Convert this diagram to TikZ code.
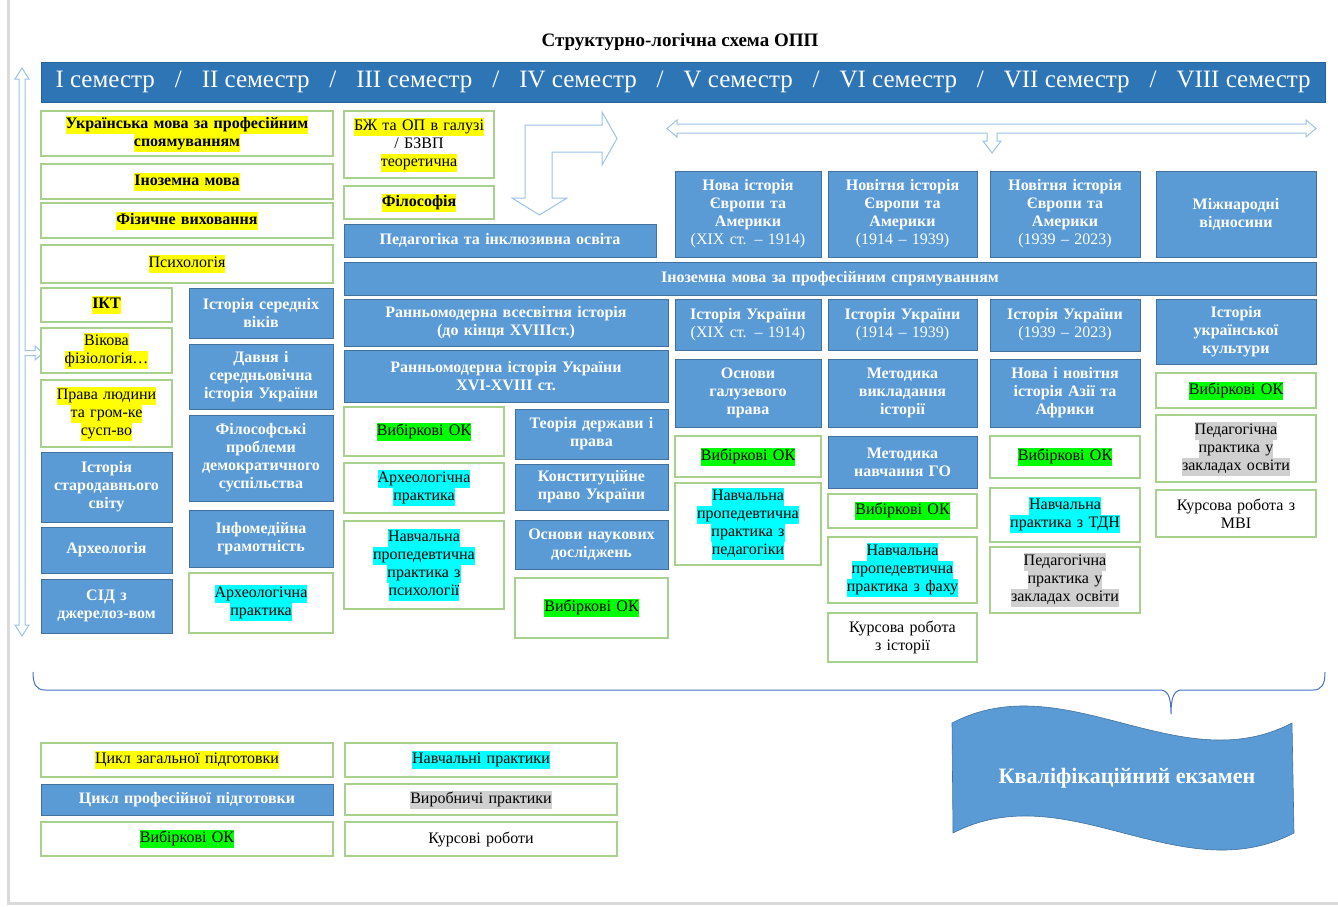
\documentclass[tikz,border=0pt]{standalone}
\usepackage{fontspec}
\setmainfont{Liberation Serif}
\definecolor{bfill}{HTML}{5B9BD5}
\definecolor{bdraw}{HTML}{41719C}
\definecolor{hbar}{HTML}{2E75B6}
\definecolor{gdraw}{HTML}{A9D18E}
\definecolor{hly}{HTML}{FFFF00}
\definecolor{hlc}{HTML}{00FFFF}
\definecolor{hlg}{HTML}{00FF00}
\definecolor{hlgr}{HTML}{D0D0D0}
\definecolor{arr}{HTML}{9DC3E6}
\definecolor{bracec}{HTML}{4472C4}
\definecolor{pagec}{HTML}{D9D9D9}
\newcommand\hlbox[2]{{\setlength\fboxsep{0pt}\colorbox{#1}{\strut #2}}}
\newcommand\hy[1]{\hlbox{hly}{#1}}
\newcommand\hc[1]{\hlbox{hlc}{#1}}
\newcommand\hg[1]{\hlbox{hlg}{#1}}
\newcommand\hgr[1]{\hlbox{hlgr}{#1}}
\newcommand\bx[7]{%
 \pgfmathsetmacro\bxw{#5-#3}\pgfmathsetmacro\bxh{#6-#4}%
 \pgfmathsetmacro\bxtw{#5-#3-6}%
 \pgfmathsetmacro\bxcx{(#3+#5)/2}\pgfmathsetmacro\bxcy{(#4+#6)/2}%
 \node[#2, minimum width=\bxw pt, minimum height=\bxh pt, text width=\bxtw pt] (#1) at (\bxcx,\bxcy) {#7};}
\tikzset{
 boxbase/.style={inner sep=0pt, outer sep=0pt, align=center, font=\fontsize{16}{18}\selectfont},
 bluebox/.style={boxbase, draw=bdraw, fill=bfill, line width=1pt, text=white, font=\fontsize{16}{18}\selectfont\bfseries},
 greenbox/.style={boxbase, draw=gdraw, fill=white, line width=1.3pt},
 hollow/.style={draw=arr, fill=white, line width=1pt, line join=miter},
}
\begin{document}
\begin{tikzpicture}[x=1pt,y=-1pt]
\useasboundingbox[fill=white] (0,0) rectangle (1338,907);
\draw[pagec, line width=3pt] (8,0) -- (8,903) -- (1338,903);

% title and semester bar
\node[inner sep=0, font=\fontsize{19}{22}\selectfont\bfseries] (title) at (680,42) {Структурно-логічна схема ОПП};
\node[draw=hbar!85!black, fill=hbar, line width=0.8pt, minimum width=1284pt, minimum height=40pt, inner sep=0, text=white, font=\fontsize{25}{28}\selectfont] (sem) at (683,82)
 {\makebox[1255pt]{I семестр\hfill/\hfill II семестр\hfill/\hfill III семестр\hfill/\hfill IV семестр\hfill/\hfill V семестр\hfill/\hfill VI семестр\hfill/\hfill VII семестр\hfill/\hfill VIII семестр}};

% arrows
\draw[hollow] (22,68) -- (29,79) -- (25,79) -- (25,350.5) -- (35,350.5) -- (35,346) -- (43,353) -- (35,360) -- (35,355.5) -- (25,355.5) -- (25,625) -- (29,625) -- (22,636) -- (15,625) -- (19,625) -- (19,79) -- (15,79) -- cycle;
\draw[hollow] (539.5,215) -- (567,198) -- (552,198) -- (552,152) -- (602,152) -- (602,165) -- (617,138.5) -- (602,112) -- (602,125) -- (525,125) -- (525,198) -- (512,198) -- cycle;
\draw[hollow] (667,128.5) -- (677,120) -- (677,124) -- (1306,124) -- (1306,120) -- (1316,128.5) -- (1306,137) -- (1306,133) -- (997,133) -- (997,141) -- (1001,141) -- (992,153) -- (983,141) -- (987,141) -- (987,133) -- (677,133) -- (677,137) -- cycle;

% column 1
\bx{ukr}{greenbox}{41}{111}{333}{156}{\hy{\textbf{Українська мова за професійним}}\\\hy{\textbf{споямуванням}}}
\bx{inoz}{greenbox}{41}{164}{333}{199}{\hy{\textbf{Іноземна мова}}}
\bx{fiz}{greenbox}{41}{203}{333}{238}{\hy{\textbf{Фізичне виховання}}}
\bx{psy}{greenbox}{41}{245}{333}{283}{\hy{Психологія}}
\bx{ikt}{greenbox}{41}{288}{172}{322}{\hy{\textbf{ІКТ}}}
\bx{vik}{greenbox}{41}{328}{172}{373}{\hy{Вікова}\\\hy{фізіологія…}}
\bx{prava}{greenbox}{41}{380}{172}{447}{\hy{Права людини}\\\hy{та гром-ке}\\\hy{сусп-во}}
\bx{star}{bluebox}{41}{452}{172}{522}{Історія\\стародавнього\\світу}
\bx{arch}{bluebox}{41}{527}{172}{573}{Археологія}
\bx{sid}{bluebox}{41}{579}{172}{633}{СІД з\\джерелоз-вом}

% column 2
\bx{sered}{bluebox}{189}{288}{333}{338}{Історія середніх\\віків}
\bx{davnia}{bluebox}{189}{344}{333}{409}{Давня і\\середньовічна\\історія України}
\bx{filpr}{bluebox}{189}{415}{333}{501}{Філософські\\проблеми\\демократичного\\суспільства}
\bx{infom}{bluebox}{189}{510}{333}{567}{Інфомедійна\\грамотність}
\bx{archprA}{greenbox}{189}{573}{333}{633}{\hc{Археологічна}\\\hc{практика}}

% column 3
\bx{bzh}{greenbox}{344}{111}{494}{178}{\hy{БЖ та ОП в галузі}\\/ БЗВП\\\hy{теоретична}}
\bx{filos}{greenbox}{344}{186}{494}{219}{\hy{\textbf{Філософія}}}
\bx{ped}{bluebox}{344}{224}{656}{257}{Педагогіка та інклюзивна освіта}
\bx{inozp}{bluebox}{344}{262}{1316}{295}{Іноземна мова за професійним спрямуванням}
\bx{rmvi}{bluebox}{344}{299}{668}{346}{Ранньомодерна всесвітня історія\\(до кінця XVIIIст.)}
\bx{rmiu}{bluebox}{344}{350}{668}{402}{Ранньомодерна історія України\\XVI-XVIII ст.}
\bx{vokA}{greenbox}{344}{407}{504}{456}{\hg{Вибіркові ОК}}
\bx{archprB}{greenbox}{344}{463}{504}{513}{\hc{Археологічна}\\\hc{практика}}
\bx{nppA}{greenbox}{344}{521}{504}{609}{\hc{Навчальна}\\\hc{пропедевтична}\\\hc{практика з}\\\hc{психології}}

% column 4
\bx{tdp}{bluebox}{515}{409}{668}{459}{Теорія держави і\\права}
\bx{kpu}{bluebox}{515}{464}{668}{510}{Конституційне\\право України}
\bx{ond}{bluebox}{515}{520}{668}{569}{Основи наукових\\досліджень}
\bx{vokB}{greenbox}{515}{578}{668}{638}{\hg{Вибіркові ОК}}

% column 5
\bx{nova}{bluebox}{675}{171}{821}{257}{Нова історія\\Європи та\\Америки\\{\mdseries (XIX ст. – 1914)}}
\bx{iuA}{bluebox}{675}{299}{821}{350}{Історія України\\{\mdseries (XIX ст. – 1914)}}
\bx{ogp}{bluebox}{675}{359}{821}{427}{Основи\\галузевого\\права}
\bx{vokC}{greenbox}{675}{436}{821}{477}{\hg{Вибіркові ОК}}
\bx{nppB}{greenbox}{675}{483}{821}{565}{\hc{Навчальна}\\\hc{пропедевтична}\\\hc{практика з}\\\hc{педагогіки}}

% column 6
\bx{novA}{bluebox}{828}{171}{977}{257}{Новітня історія\\Європи та\\Америки\\{\mdseries (1914 – 1939)}}
\bx{iuB}{bluebox}{828}{299}{977}{350}{Історія України\\{\mdseries (1914 – 1939)}}
\bx{mvi}{bluebox}{828}{359}{977}{427}{Методика\\викладання\\історії}
\bx{mng}{bluebox}{828}{436}{977}{488}{Методика\\навчання ГО}
\bx{vokD}{greenbox}{828}{494}{977}{528}{\hg{Вибіркові ОК}}
\bx{nppC}{greenbox}{828}{537}{977}{603}{\hc{Навчальна}\\\hc{пропедевтична}\\\hc{практика з фаху}}
\bx{kri}{greenbox}{828}{613}{977}{662}{Курсова робота\\з історії}

% column 7
\bx{novB}{bluebox}{990}{171}{1140}{257}{Новітня історія\\Європи та\\Америки\\{\mdseries (1939 – 2023)}}
\bx{iuC}{bluebox}{990}{299}{1140}{351}{Історія України\\{\mdseries (1939 – 2023)}}
\bx{naa}{bluebox}{990}{359}{1140}{427}{Нова і новітня\\історія Азії та\\Африки}
\bx{vokE}{greenbox}{990}{436}{1140}{478}{\hg{Вибіркові ОК}}
\bx{ntdn}{greenbox}{990}{488}{1140}{542}{\hc{Навчальна}\\\hc{практика з ТДН}}
\bx{ppA}{greenbox}{990}{547}{1140}{613}{\hgr{Педагогічна}\\\hgr{практика у}\\\hgr{закладах освіти}}

% column 8
\bx{mv}{bluebox}{1156}{171}{1316}{257}{Міжнародні\\відносини}
\bx{iuk}{bluebox}{1156}{299}{1316}{364}{Історія\\української\\культури}
\bx{vokF}{greenbox}{1156}{373}{1316}{408}{\hg{Вибіркові ОК}}
\bx{ppB}{greenbox}{1156}{415}{1316}{482}{\hgr{Педагогічна}\\\hgr{практика у}\\\hgr{закладах освіти}}
\bx{kmvi}{greenbox}{1156}{490}{1316}{537}{Курсова робота з\\МВІ}

% brace
\draw[bracec, line width=1pt] (33,672) .. controls (33,684) and (36,690) .. (45,690) -- (1160,690) .. controls (1168,690) and (1171,697) .. (1171,714) .. controls (1171,697) and (1174,690) .. (1182,690) -- (1313,690) .. controls (1322,690) and (1325,684) .. (1325,672);

% wave
\draw[fill=bfill, draw=bdraw, line width=0.6pt] (952,723) .. controls (1065,664) and (1179,782) .. (1292,723) -- (1294,833) .. controls (1180,892) and (1067,774) .. (953,833) -- cycle;
\node[inner sep=0, text=white, font=\fontsize{22}{24}\selectfont\bfseries] (exam) at (1127,778) {Кваліфікаційний екзамен};

% legend
\bx{lgA}{greenbox}{41}{743}{333}{777}{\hy{Цикл загальної підготовки}}
\bx{lgB}{bluebox}{41}{784}{333}{815}{Цикл професійної підготовки}
\bx{lgC}{greenbox}{41}{822}{333}{856}{\hg{Вибіркові ОК}}
\bx{lgD}{greenbox}{345}{743}{617}{777}{\hc{Навчальні практики}}
\bx{lgE}{greenbox}{345}{784}{617}{815}{\hgr{Виробничі практики}}
\bx{lgF}{greenbox}{345}{822}{617}{856}{Курсові роботи}
\end{tikzpicture}
\end{document}
